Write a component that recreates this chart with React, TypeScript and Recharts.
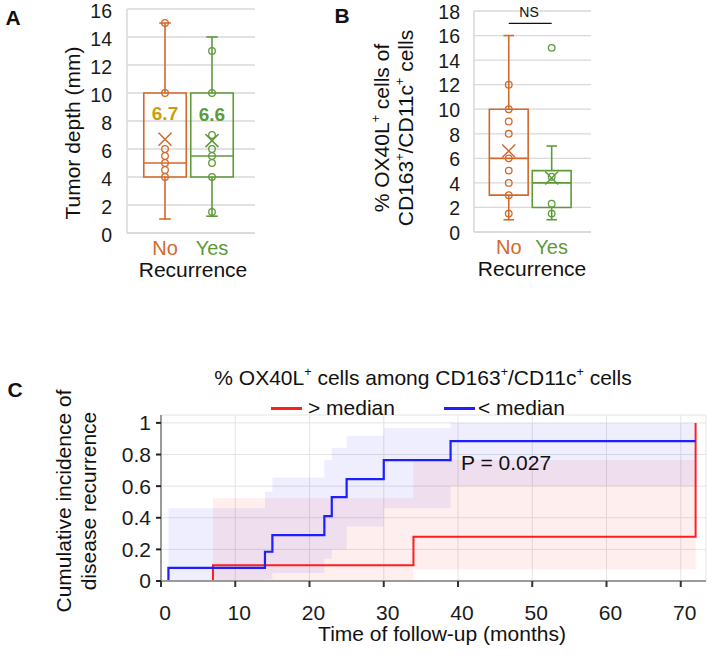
import React from 'react';
import {
  ComposedChart,
  Scatter,
  ReferenceArea,
  ReferenceLine,
  XAxis,
  YAxis,
  CartesianGrid,
  Area,
  Line,
} from 'recharts';

const FONT = '"Liberation Sans", Arial, Helvetica, sans-serif';

// Recurrence groups
const groups = ['No', 'Yes'];
const groupColors = ['#D2692B', '#5E9A3A'];
const meanLabelColors = ['#C9A00C', '#5E9A3A'];

// Panel A: tumor depth (mm) by recurrence
const depthMin = [1, 1.2];
const depthQ1 = [4, 4];
const depthMedian = [5, 5.5];
const depthQ3 = [10, 10];
const depthMax = [15, 14];
const depthMean = [6.7, 6.6];
const depthPoints = [
  [15, 10, 6, 5.5, 5, 4.5, 4],
  [13, 10, 7, 6, 5.5, 5, 4, 1.5],
];
const depthTicks = [0, 2, 4, 6, 8, 10, 12, 14, 16];

// Panel B: % OX40L+ cells of CD163+/CD11c+ cells by recurrence
const oxMin = [1, 1];
const oxQ1 = [3, 2];
const oxMedian = [6, 4];
const oxQ3 = [10, 5];
const oxMax = [16, 7];
const oxMean = [6.6, 4.4];
const oxPoints = [
  [12, 10, 9, 8, 6, 5, 4, 3, 1.5],
  [15, 4.5, 2.3, 1.5],
];
const oxTicks = [0, 2, 4, 6, 8, 10, 12, 14, 16, 18];
const nsLevel = 17;

// Panel C: cumulative incidence of recurrence over follow-up
const months = [0, 1, 7, 14, 15, 22, 23, 25, 30, 34, 39, 72];
const aboveMedian = [0, 0, 0.1, 0.1, 0.1, 0.1, 0.1, 0.1, 0.1, 0.28, 0.28, 1.0];
const aboveLow = [0, 0, 0, 0, 0, 0, 0, 0, 0, 0.074, 0.074, 0.074];
const aboveHigh = [0, 0, 0.524, 0.524, 0.524, 0.524, 0.524, 0.524, 0.524, 0.766, 0.766, 0.766];
const belowMedian = [0, 0.083, 0.083, 0.185, 0.29, 0.41, 0.53, 0.645, 0.765, 0.765, 0.885, 0.885];
const belowLow = [0, 0, 0, 0.01, 0.05, 0.14, 0.2, 0.345, 0.46, 0.46, 0.6, 0.6];
const belowHigh = [0, 0.46, 0.46, 0.565, 0.655, 0.765, 0.843, 0.918, 0.967, 0.967, 1.0, 1.0];
const monthTicks = [0, 10, 20, 30, 40, 50, 60, 70];
const incidenceTicks = [0, 0.2, 0.4, 0.6, 0.8, 1];

const kmRows = months.map((t, i) => ({
  time: t,
  above: aboveMedian[i],
  below: belowMedian[i],
  aboveBand: [aboveLow[i], aboveHigh[i]],
  belowBand: [belowLow[i], belowHigh[i]],
}));

// Horizontal slots of the two boxes inside each box-plot panel
const slots = [0.297, 0.664];
const halfWidth = 0.166;
const capHalf = 0.045;

type BoxStats = { min: number[]; q1: number[]; median: number[]; q3: number[]; max: number[] };

function boxParts(tag: string, i: number, s: BoxStats) {
  const c = slots[i];
  const color = groupColors[i];
  const line = { stroke: color, strokeWidth: 1.6, ifOverflow: 'visible' as const };
  return [
    <ReferenceArea
      key={`${tag}-box-${i}`}
      x1={c - halfWidth}
      x2={c + halfWidth}
      y1={s.q1[i]}
      y2={s.q3[i]}
      fill="none"
      fillOpacity={0}
      stroke={color}
      strokeWidth={1.6}
      ifOverflow="visible"
    />,
    <ReferenceLine key={`${tag}-med-${i}`} segment={[{ x: c - halfWidth, y: s.median[i] }, { x: c + halfWidth, y: s.median[i] }]} {...line} />,
    <ReferenceLine key={`${tag}-wlo-${i}`} segment={[{ x: c, y: s.min[i] }, { x: c, y: s.q1[i] }]} {...line} />,
    <ReferenceLine key={`${tag}-whi-${i}`} segment={[{ x: c, y: s.q3[i] }, { x: c, y: s.max[i] }]} {...line} />,
    <ReferenceLine key={`${tag}-clo-${i}`} segment={[{ x: c - capHalf, y: s.min[i] }, { x: c + capHalf, y: s.min[i] }]} {...line} />,
    <ReferenceLine key={`${tag}-chi-${i}`} segment={[{ x: c - capHalf, y: s.max[i] }, { x: c + capHalf, y: s.max[i] }]} {...line} />,
  ];
}

const pointShape = (color: string) => (props: any) => {
  const { cx, cy } = props;
  return <circle cx={cx} cy={cy} r={3.3} fill="none" stroke={color} strokeWidth={1.3} />;
};

const meanShape = (color: string, labelColor?: string) => (props: any) => {
  const { cx, cy, payload } = props;
  const s = 6.5;
  return (
    <g>
      <path
        d={`M${cx - s},${cy - s}L${cx + s},${cy + s}M${cx - s},${cy + s}L${cx + s},${cy - s}`}
        stroke={color}
        strokeWidth={1.5}
        fill="none"
      />
      {labelColor ? (
        <text
          x={cx}
          y={cy - 26}
          dy="0.35em"
          textAnchor="middle"
          fontSize={19}
          fontWeight="bold"
          fill={labelColor}
          fontFamily={FONT}
        >
          {Number(payload.y).toFixed(1)}
        </text>
      ) : null}
    </g>
  );
};

const groupTick = (props: any) => {
  const { x, y, payload } = props;
  let idx = slots.findIndex((v) => Math.abs(v - payload.value) < 1e-6);
  if (idx < 0) idx = 0;
  return (
    <text x={x} y={y} dy="0.71em" textAnchor="middle" fontSize={20} fill={groupColors[idx]} fontFamily={FONT}>
      {groups[idx]}
    </text>
  );
};

const valueTick = (shift: number) => (props: any) => {
  const { x, y, payload } = props;
  return (
    <text x={x} y={y + shift} dy="0.35em" textAnchor="end" fontSize={19.5} fill="#1a1a1a" fontFamily={FONT}>
      {payload.value}
    </text>
  );
};

const monthTick = (props: any) => {
  const { x, y, payload } = props;
  return (
    <text x={x + 4} y={y} dy="0.71em" textAnchor="middle" fontSize={21} fill="#1a1a1a" fontFamily={FONT}>
      {payload.value}
    </text>
  );
};

function seriesScatters(tag: string, points: number[][], mean: number[], withLabel: boolean) {
  const out: React.ReactElement[] = [];
  points.forEach((vals, i) => {
    out.push(
      <Scatter
        key={`${tag}-pts-${i}`}
        data={vals.map((v) => ({ x: slots[i], y: v }))}
        dataKey="y"
        shape={pointShape(groupColors[i])}
        isAnimationActive={false}
      />
    );
    out.push(
      <Scatter
        key={`${tag}-mean-${i}`}
        data={[{ x: slots[i], y: mean[i] }]}
        dataKey="y"
        shape={meanShape(groupColors[i], withLabel ? meanLabelColors[i] : undefined)}
        isAnimationActive={false}
      />
    );
  });
  return out;
}

const GRID = '#D9D9D9';

function BoxPanel(props: {
  width: number;
  height: number;
  margin: { top: number; right: number; left: number; bottom: number };
  yWidth: number;
  xHeight: number;
  ticks: number[];
  tickMargin: number;
  tickShift: number;
  stats: BoxStats;
  points: number[][];
  mean: number[];
  withLabel: boolean;
  tag: string;
  extra?: React.ReactNode;
}) {
  const { ticks } = props;
  return (
    <ComposedChart width={props.width} height={props.height} margin={props.margin}>
      <CartesianGrid vertical={false} stroke={GRID} strokeWidth={1.3} />
      <XAxis
        type="number"
        dataKey="x"
        domain={[0, 1]}
        ticks={slots}
        tick={groupTick}
        tickLine={false}
        tickSize={0}
        tickMargin={8}
        height={props.xHeight}
        axisLine={{ stroke: GRID, strokeWidth: 1.5 }}
        allowDataOverflow
      />
      <YAxis
        type="number"
        dataKey="y"
        domain={[ticks[0], ticks[ticks.length - 1]]}
        ticks={ticks}
        interval={0}
        width={props.yWidth}
        tickLine={false}
        tickSize={0}
        tickMargin={props.tickMargin}
        axisLine={{ stroke: GRID, strokeWidth: 1.5 }}
        tick={valueTick(props.tickShift)}
        allowDataOverflow
      />
      {boxParts(props.tag, 0, props.stats)}
      {boxParts(props.tag, 1, props.stats)}
      {props.extra}
      {seriesScatters(props.tag, props.points, props.mean, props.withLabel)}
    </ComposedChart>
  );
}

const Sup = () => (
  <sup style={{ fontSize: '0.6em', verticalAlign: '0.7em', lineHeight: 0 }}>+</sup>
);

function Txt(props: {
  x: number;
  y: number;
  size: number;
  bold?: boolean;
  color?: string;
  rotate?: boolean;
  lineHeight?: number;
  align?: 'left' | 'center';
  children: React.ReactNode;
}) {
  const centered = props.align !== 'left';
  return (
    <div
      style={{
        position: 'absolute',
        left: props.x,
        top: props.y,
        transform: `translate(${centered ? '-50%' : '0'}, -50%)${props.rotate ? ' rotate(-90deg)' : ''}`,
        fontSize: props.size,
        fontWeight: props.bold ? 'bold' : 'normal',
        color: props.color || '#111',
        whiteSpace: 'nowrap',
        textAlign: 'center',
        lineHeight: props.lineHeight ? `${props.lineHeight}px` : 1.05,
        fontFamily: FONT,
      }}
    >
      {props.children}
    </div>
  );
}

function IncidencePanel() {
  return (
    <ComposedChart width={708} height={259} data={kmRows} margin={{ top: 15, right: 2, left: 0, bottom: 0 }}>
      <CartesianGrid stroke="#E4E4E4" strokeWidth={1} />
      <XAxis
        type="number"
        dataKey="time"
        domain={[0, 73.4]}
        ticks={monthTicks}
        interval={0}
        height={78}
        tickSize={6}
        tickMargin={18}
        axisLine={{ stroke: '#9A9A9A', strokeWidth: 2 }}
        tickLine={{ stroke: '#333', strokeWidth: 2 }}
        tick={monthTick}
        allowDataOverflow
      />
      <YAxis
        type="number"
        domain={[0, 1.05]}
        ticks={incidenceTicks}
        interval={0}
        width={161}
        tickSize={5}
        tickMargin={5}
        axisLine={{ stroke: '#9A9A9A', strokeWidth: 2 }}
        tickLine={{ stroke: '#222', strokeWidth: 2 }}
        tick={{ fontSize: 21, fill: '#1a1a1a', fontFamily: FONT }}
        allowDataOverflow
      />
      <Area
        dataKey="belowBand"
        type="stepAfter"
        stroke="none"
        fill="#0000FF"
        fillOpacity={0.065}
        isAnimationActive={false}
        dot={false}
        activeDot={false}
      />
      <Area
        dataKey="aboveBand"
        type="stepAfter"
        stroke="none"
        fill="#FF0000"
        fillOpacity={0.065}
        isAnimationActive={false}
        dot={false}
        activeDot={false}
      />
      <Line
        dataKey="above"
        type="stepAfter"
        stroke="#FF1E1E"
        strokeWidth={2}
        dot={false}
        activeDot={false}
        isAnimationActive={false}
      />
      <Line
        dataKey="below"
        type="stepAfter"
        stroke="#1E1EFF"
        strokeWidth={2.2}
        dot={false}
        activeDot={false}
        isAnimationActive={false}
      />
    </ComposedChart>
  );
}

export default function App() {
  const depthStats: BoxStats = { min: depthMin, q1: depthQ1, median: depthMedian, q3: depthQ3, max: depthMax };
  const oxStats: BoxStats = { min: oxMin, q1: oxQ1, median: oxMedian, q3: oxQ3, max: oxMax };

  return (
    <div
      style={{
        position: 'absolute',
        left: 0,
        top: 0,
        width: 708,
        height: 659,
        background: '#fff',
        fontFamily: FONT,
        overflow: 'hidden',
      }}
    >
      {/* Panel A */}
      <div style={{ position: 'absolute', left: 0, top: -12 }}>
        <BoxPanel
          tag="depth"
          width={262}
          height={302}
          margin={{ top: 21, right: 7, left: 0, bottom: 0 }}
          yWidth={127}
          xHeight={57}
          ticks={depthTicks}
          tickMargin={15}
          tickShift={2.5}
          stats={depthStats}
          points={depthPoints}
          mean={depthMean}
          withLabel
        />
      </div>

      {/* Panel B */}
      <div style={{ position: 'absolute', left: 330, top: -12 }}>
        <BoxPanel
          tag="ox"
          width={270}
          height={302}
          margin={{ top: 23, right: 9, left: 0, bottom: 0 }}
          yWidth={144}
          xHeight={58}
          ticks={oxTicks}
          tickMargin={14}
          tickShift={1}
          stats={oxStats}
          points={oxPoints}
          mean={oxMean}
          withLabel={false}
          extra={
            <ReferenceLine
              segment={[{ x: slots[0], y: nsLevel }, { x: slots[1], y: nsLevel }]}
              stroke="#111"
              strokeWidth={1.2}
              ifOverflow="visible"
            />
          }
        />
      </div>

      {/* Panel C */}
      <div style={{ position: 'absolute', left: 0, top: 400 }}>
        <IncidencePanel />
      </div>

      {/* Panel letters */}
      <Txt x={13} y={18} size={21} bold>A</Txt>
      <Txt x={342} y={16} size={21} bold>B</Txt>
      <Txt x={15} y={390} size={21} bold>C</Txt>

      {/* Panel A titles */}
      <Txt x={72.5} y={133} size={21} rotate>Tumor depth (mm)</Txt>
      <Txt x={193} y={270} size={21}>Recurrence</Txt>

      {/* Panel B titles */}
      <Txt x={394} y={128} size={21} rotate lineHeight={24}>
        % OX40L<Sup /> cells of
        <br />
        CD163<Sup />/CD11c<Sup /> cells
      </Txt>
      <Txt x={532} y={269} size={21}>Recurrence</Txt>
      <Txt x={529} y={12} size={14}>NS</Txt>

      {/* Panel C titles and legend */}
      <Txt x={423} y={378} size={21}>
        % OX40L<Sup /> cells among CD163<Sup />/CD11c<Sup /> cells
      </Txt>
      <div style={{ position: 'absolute', left: 271, top: 406.5, width: 31, height: 3, background: '#FF1E1E' }} />
      <Txt x={308} y={408} size={21} align="left">&gt; median</Txt>
      <div style={{ position: 'absolute', left: 444, top: 406.5, width: 31, height: 3, background: '#1E1EFF' }} />
      <Txt x={478} y={408} size={21} align="left">&lt; median</Txt>
      <Txt x={461} y={463} size={21} align="left">P = 0.027</Txt>
      <Txt x={75.6} y={501} size={21} rotate lineHeight={25}>
        Cumulative incidence of
        <br />
        disease recurrence
      </Txt>
      <Txt x={442} y={634} size={21}>Time of follow-up (months)</Txt>
    </div>
  );
}
